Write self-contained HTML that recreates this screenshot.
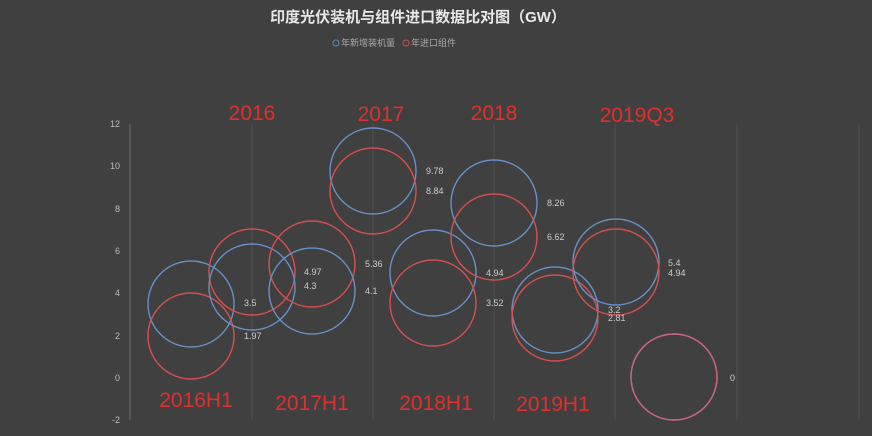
<!DOCTYPE html>
<html><head><meta charset="utf-8"><style>
html,body{margin:0;padding:0;background:#404040;}
svg{display:block;}
</style></head><body>
<svg width="872" height="436" viewBox="0 0 872 436" xmlns="http://www.w3.org/2000/svg" font-family="'Liberation Sans','Noto Sans CJK SC',sans-serif">
<rect width="872" height="436" fill="#404040"/>
<text x="418" y="22" text-anchor="middle" font-size="15" font-weight="bold" fill="#e8e8e8">印度光伏装机与组件进口数据比对图（GW）</text>
<circle cx="336" cy="43" r="3" fill="none" stroke="#5b86c0" stroke-width="1"/>
<text x="341" y="46" font-size="9" fill="#aaa">年新增装机量</text>
<circle cx="406" cy="43" r="3" fill="none" stroke="#d04a4a" stroke-width="1"/>
<text x="411" y="46" font-size="9" fill="#aaa">年进口组件</text>
<g stroke="#555" stroke-width="0.8">
<line x1="130" y1="124" x2="130" y2="420" stroke="#777"/>
<line x1="252" y1="124" x2="252" y2="420"/>
<line x1="373" y1="124" x2="373" y2="420"/>
<line x1="494" y1="124" x2="494" y2="420"/>
<line x1="615" y1="124" x2="615" y2="420"/>
<line x1="737" y1="124" x2="737" y2="420"/>
<line x1="859" y1="124" x2="859" y2="420"/>
</g>
<g font-size="9" fill="#bbb" text-anchor="end">
<text x="120" y="127">12</text>
<text x="120" y="169">10</text>
<text x="120" y="212">8</text>
<text x="120" y="254">6</text>
<text x="120" y="296">4</text>
<text x="120" y="339">2</text>
<text x="120" y="381">0</text>
<text x="120" y="423">-2</text>
</g>
<g fill="none" stroke-width="1.4">
<circle cx="191" cy="304" r="43" stroke="#6890c8"/>
<circle cx="191" cy="336" r="43" stroke="#d65050"/>
<circle cx="252" cy="272" r="43" stroke="#d65050"/>
<circle cx="252" cy="287" r="43" stroke="#6890c8"/>
<circle cx="312" cy="264" r="43" stroke="#d65050"/>
<circle cx="312" cy="291" r="43" stroke="#6890c8"/>
<circle cx="373" cy="171" r="43" stroke="#6890c8"/>
<circle cx="373" cy="191" r="43" stroke="#d65050"/>
<circle cx="433" cy="273" r="43" stroke="#6890c8"/>
<circle cx="433" cy="303" r="43" stroke="#d65050"/>
<circle cx="494" cy="203" r="43" stroke="#6890c8"/>
<circle cx="494" cy="237" r="43" stroke="#d65050"/>
<circle cx="555" cy="310" r="43" stroke="#6890c8"/>
<circle cx="555" cy="318" r="43" stroke="#d65050"/>
<circle cx="616" cy="262" r="43" stroke="#6890c8"/>
<circle cx="616" cy="272" r="43" stroke="#d65050"/>
<circle cx="674" cy="377" r="43" stroke="#6890c8"/>
<circle cx="674" cy="377" r="43" stroke="#d06078"/>
</g>
<g font-size="9" fill="#ccc">
<text x="244" y="306">3.5</text>
<text x="244" y="339">1.97</text>
<text x="304" y="275">4.97</text>
<text x="304" y="289">4.3</text>
<text x="365" y="267">5.36</text>
<text x="365" y="294">4.1</text>
<text x="426" y="174">9.78</text>
<text x="426" y="194">8.84</text>
<text x="486" y="276">4.94</text>
<text x="486" y="306">3.52</text>
<text x="547" y="206">8.26</text>
<text x="547" y="240">6.62</text>
<text x="608" y="313">3.2</text>
<text x="608" y="321">2.81</text>
<text x="668" y="266">5.4</text>
<text x="668" y="276">4.94</text>
<text x="730" y="381">0</text>
</g>
<g font-size="21" fill="#e0302c" text-anchor="middle">
<text x="252" y="120">2016</text>
<text x="381" y="121">2017</text>
<text x="494" y="120">2018</text>
<text x="637" y="122">2019Q3</text>
<text x="196" y="407">2016H1</text>
<text x="312" y="410">2017H1</text>
<text x="436" y="410">2018H1</text>
<text x="553" y="411">2019H1</text>
</g>
</svg>
</body></html>
